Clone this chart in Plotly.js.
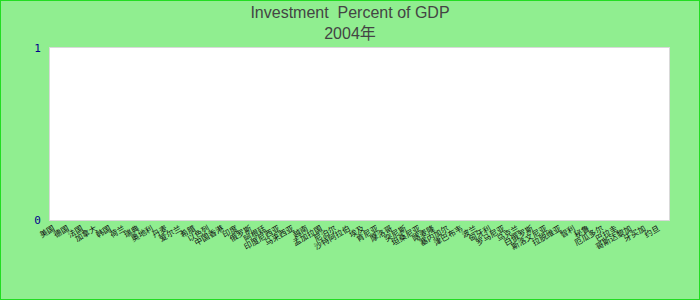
<!DOCTYPE html>
<html>
<head>
<meta charset="utf-8">
<script src="https://cdn.plot.ly/plotly-3.0.1.min.js"></script>
<style>
html,body{margin:0;padding:0;background:#90ee90;}
#chart{width:700px;height:300px;}
#frame{position:fixed;left:0;top:0;width:700px;height:300px;box-sizing:border-box;border:1px solid #22dd22;pointer-events:none;}
</style>
</head>
<body>
<div id="chart"></div>
<div id="frame"></div>
<script>
const countries = ["美国","日本","德国","英国","法国","意大利","加拿大","西班牙","韩国","澳大利亚",
"荷兰","比利时","瑞典","瑞士","奥地利","挪威","丹麦","芬兰","爱尔兰","葡萄牙",
"希腊","新西兰","以色列","新加坡","中国香港","中国","印度","巴西","俄罗斯","墨西哥",
"阿根廷","南非","印度尼西亚","泰国","马来西亚","菲律宾","越南","巴基斯坦","孟加拉国","斯里兰卡",
"尼泊尔","伊朗","沙特阿拉伯","土耳其","埃及","尼日利亚","肯尼亚","埃塞俄比亚","摩洛哥","阿尔及利亚",
"突尼斯","加纳","坦桑尼亚","乌干达","喀麦隆","科特迪瓦","塞内加尔","赞比亚","津巴布韦","莫桑比克",
"波兰","捷克","匈牙利","斯洛伐克","罗马尼亚","保加利亚","乌克兰","哈萨克斯坦","白俄罗斯","克罗地亚",
"斯洛文尼亚","立陶宛","拉脱维亚","爱沙尼亚","智利","哥伦比亚","秘鲁","委内瑞拉","厄瓜多尔","乌拉圭",
"巴拉圭","玻利维亚","哥斯达黎加","危地马拉","牙买加","多米尼加共和国","约旦","叙利亚"];
// No values are visible in the reference: the plot area is empty.
const investmentPct = countries.map(() => null);
const yTicks = [0, 1];

const trace = {
  type: 'bar',
  x: countries,
  y: investmentPct,
  marker: {color: '#4472c4'},
  hoverinfo: 'x+y'
};

const layout = {
  width: 700, height: 300,
  paper_bgcolor: '#90ee90',
  plot_bgcolor: '#ffffff',
  margin: {l: 50, r: 31, t: 48, b: 80},
  showlegend: false,
  title: {
    text: 'Investment&nbsp; Percent of GDP<br>2004年',
    font: {family: 'Liberation Sans, Noto Sans CJK SC', size: 16, color: '#444444'},
    x: 0.5, xanchor: 'center', y: 0.94, yanchor: 'top'
  },
  xaxis: {
    type: 'category',
    categoryorder: 'array', categoryarray: countries,
    range: [-0.5, countries.length - 0.5],
    tickangle: -30,
    tickfont: {family: 'Liberation Sans, Noto Sans CJK SC', size: 8, color: '#111111'},
    showgrid: false, zeroline: false,
    showline: true, mirror: true, linecolor: '#d9d9d9', linewidth: 1,
    ticks: '', automargin: false
  },
  yaxis: {
    range: [0, 1],
    tickvals: yTicks, ticktext: yTicks.map(String),
    tickfont: {family: 'DejaVu Sans Mono', size: 11, color: '#00008b'},
    showgrid: false, zeroline: false,
    showline: true, mirror: true, linecolor: '#d9d9d9', linewidth: 1,
    ticks: '', ticklabelstandoff: 6, automargin: false
  }
};

Plotly.newPlot('chart', [trace], layout, {displayModeBar: false, staticPlot: true});
</script>
</body>
</html>
